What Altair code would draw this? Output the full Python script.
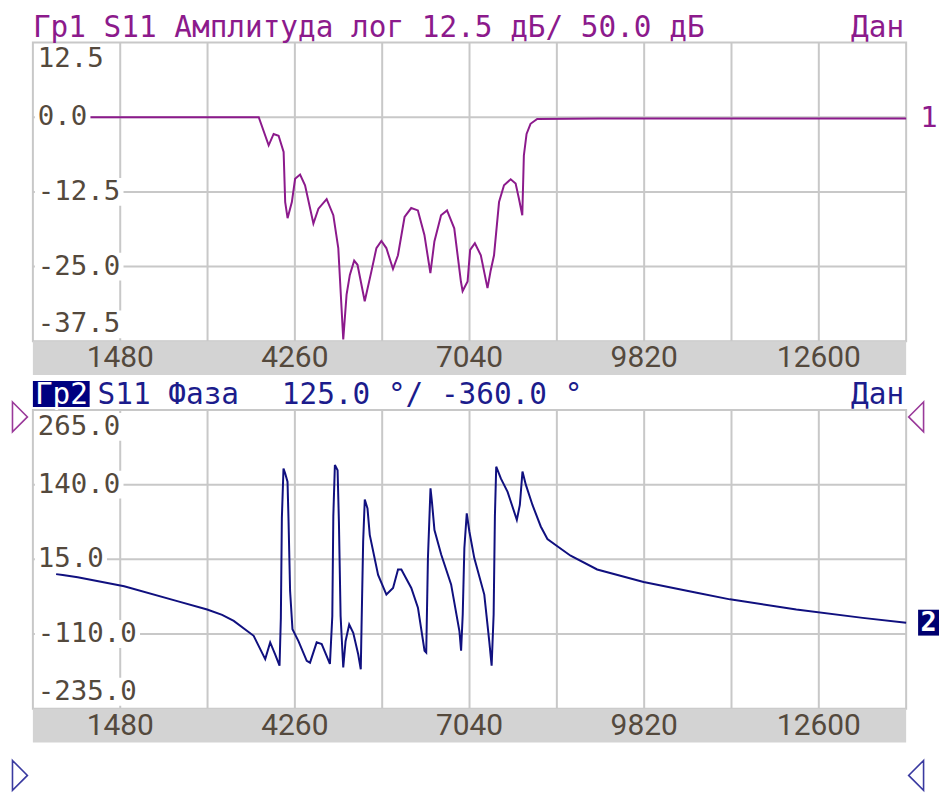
import altair as alt
import pandas as pd

# ---------------- data ----------------
x_domain = [90, 13990]
x_grid = [1480, 2870, 4260, 5650, 7040, 8430, 9820, 11210, 12600]
x_labels = [1480, 4260, 7040, 9820, 12600]

mag_freq = [460, 3685, 3843, 3922, 4001, 4081, 4106, 4144, 4212, 4264,
            4343, 4422, 4555, 4635, 4766, 4872, 4951, 4977, 5030, 5083,
            5135, 5204, 5257, 5372, 5478, 5558, 5637, 5716, 5822, 5901,
            6006, 6112, 6218, 6322, 6417, 6481, 6587, 6682, 6797, 6903,
            6930, 7009, 7050, 7125, 7220, 7326, 7378, 7430, 7510, 7589,
            7695, 7774, 7826, 7880, 7905, 7948, 8011, 8117, 9120, 13990]
mag_db = [0, 0, -4.7, -2.8, -3.1, -5.8, -14.2, -16.9, -14.2, -10.3,
          -9.6, -11.4, -17.8, -15.3, -13.7, -16.4, -21.9, -26.9, -37.2, -29.7,
          -26.4, -24.0, -24.7, -30.8, -25.8, -21.9, -20.7, -21.9, -25.4, -23.1,
          -16.7, -15.2, -15.6, -19.7, -26.1, -20.8, -16.4, -15.6, -18.6, -27.5,
          -29.1, -27.5, -22.2, -21.1, -23.1, -28.6, -25.6, -23.1, -14.2, -11.4,
          -10.4, -11.1, -13.6, -16.4, -6.4, -2.8, -1.1, -0.3, -0.2, -0.2]
mag_domain = [-37.5, 12.5]
mag_ticks = [12.5, 0.0, -12.5, -25.0, -37.5]
mag_tick_text = ["12.5", "0.0", "-12.5", "-25.0", "-37.5"]

ph_freq = [460, 803, 1543, 2388, 2864, 3102, 3287, 3604, 3788, 3867,
           3946, 4016, 4037, 4053, 4079, 4105, 4143, 4159, 4184, 4222,
           4317, 4449, 4501, 4607, 4687, 4818, 4856, 4872, 4897, 4940,
           4961, 4988, 5030, 5067, 5125, 5189, 5268, 5309, 5321, 5347,
           5373, 5416, 5452, 5585, 5717, 5823, 5902, 5955, 6113, 6219,
           6324, 6351, 6378, 6419, 6441, 6482, 6589, 6747, 6879, 6906,
           6932, 6958, 6996, 7037, 7116, 7275, 7354, 7392, 7424, 7444,
           7465, 7540, 7646, 7793, 7841, 7883, 7936, 8042, 8174, 8280,
           8438, 8649, 9072, 9811, 10657, 11185, 12242, 13298, 13990]
ph_deg = [-9.5, -15, -30, -55, -69, -78, -88, -113, -152, -124,
          -144, -163, -83, 84, 167, 159, 145, 81, -38, -102,
          -122, -155, -158, -124, -127, -160, -80, 87, 173, 164,
          78, -80, -166, -122, -94, -108, -144, -169, -99, 45,
          115, 100, 56, -11, -44, -33, -2, -2, -33, -66,
          -138, -141, 17, 134, 112, 64, 23, -27, -105, -138,
          -77, 34, 92, 62, 17, -44, -122, -163, -77, 87,
          170, 150, 128, 81, 106, 162, 140, 106, 70, 49,
          37, 21, -2, -23, -41, -52, -69, -83, -91]
ph_domain = [-235, 265]
ph_ticks = [265, 140, 15, -110, -235]
ph_tick_text = ["265.0", "140.0", "15.0", "-110.0", "-235.0"]

title1 = "Гр1 S11 Амплитуда лог 12.5 дБ/ 50.0 дБ"
title2_tag = "Гр2"
title2_a = "S11 Фаза"
title2_b = "125.0 °/ -360.0 °"
status = "Дан"

# ---------------- style ----------------
W, H = 877, 300
LEFT_EXT, RIGHT_EXT = -22, 910
MONO = "DejaVu Sans Mono"
SANS = "Roboto"
GRID = "#c8c8c8"
BAND = "#d3d3d3"
LABEL = "#54493d"
PURPLE = "#8c1a8c"
NAVY_TXT = "#1c1c8c"
NAVY_LINE = "#10107f"
NAVY_BOX = "#000080"
TRI_P = "#9a3a9a"
TRI_B = "#3a3aa0"
RIGHT_TRI = "M-0.5,-1L0.5,0L-0.5,1Z"
LEFT_TRI = "M0.5,-1L-0.5,0L0.5,1Z"

one = pd.DataFrame({"a": [0]})


def xs():
    return alt.X("f:Q", scale=alt.Scale(domain=x_domain, nice=False, zero=False), axis=None)


def ys(domain):
    return alt.Y("v:Q", scale=alt.Scale(domain=domain, nice=False, zero=False), axis=None)


def panel(freq, vals, domain, ticks, tick_text, color, top_bound):
    layers = []
    layers.append(alt.Chart(pd.DataFrame({"f": x_grid})).mark_rule(color=GRID, strokeWidth=2)
                  .encode(x=xs(), y=alt.value(0), y2=alt.value(H)))
    layers.append(alt.Chart(pd.DataFrame({"v": ticks[1:-1]})).mark_rule(color=GRID, strokeWidth=2)
                  .encode(y=ys(domain), x=alt.value(0), x2=alt.value(W)))
    layers.append(alt.Chart(pd.DataFrame({"f": freq, "v": vals})).mark_line(color=color, strokeWidth=2)
                  .encode(x=xs(), y=ys(domain)))
    n = len(ticks)
    for i, (v, t) in enumerate(zip(ticks, tick_text)):
        shift = 17 if i == 0 else (-17 if i == n - 1 else 0)
        d = pd.DataFrame({"v": [v], "t": [t]})
        layers.append(alt.Chart(d).mark_rect(color="white", yOffset=shift - 14, y2Offset=shift + 14)
                      .encode(y=ys(domain), y2=alt.Y2("v:Q"), x=alt.value(2),
                              x2=alt.value(5 + len(t) * 16.6 + 3)))
        layers.append(alt.Chart(d).mark_text(align="left", baseline="middle", dy=shift, font=MONO,
                                             fontSize=27.5, color=LABEL)
                      .encode(y=ys(domain), x=alt.value(5), text="t:N"))
    # gray axis band
    layers.append(alt.Chart(one).mark_rect(color=BAND)
                  .encode(x=alt.value(0), x2=alt.value(W), y=alt.value(H), y2=alt.value(H + 34)))
    layers.append(alt.Chart(pd.DataFrame({"f": x_labels, "t": [str(v) for v in x_labels]}))
                  .mark_text(font=SANS, fontSize=30, color=LABEL, baseline="middle")
                  .encode(x=xs(), y=alt.value(H + 17), text="t:N"))
    # invisible helper fixing the panel's extent
    layers.append(alt.Chart(one).mark_rule(strokeOpacity=0, strokeWidth=0.01, color="white")
                  .encode(x=alt.value(LEFT_EXT), x2=alt.value(RIGHT_EXT), y=alt.value(top_bound)))
    return layers


# panel 1
p1 = panel(mag_freq, mag_db, mag_domain, mag_ticks, mag_tick_text, PURPLE, -32)
p1.append(alt.Chart(one).mark_text(align="left", baseline="alphabetic", font=MONO, fontSize=29.5, color=PURPLE)
          .encode(x=alt.value(0), y=alt.value(-6), text=alt.value(title1)))
p1.append(alt.Chart(one).mark_text(align="right", baseline="alphabetic", font=MONO, fontSize=29.5, color=PURPLE)
          .encode(x=alt.value(875), y=alt.value(-6), text=alt.value(status)))
p1.append(alt.Chart(pd.DataFrame({"v": [mag_db[-1]]})).mark_text(baseline="middle", font=MONO, fontSize=29, color=PURPLE)
          .encode(x=alt.value(900), y=ys(mag_domain), text=alt.value("1")))
chart1 = alt.layer(*p1).properties(width=W, height=H)

# panel 2
p2 = panel(ph_freq, ph_deg, ph_domain, ph_ticks, ph_tick_text, NAVY_LINE, -33)
p2.append(alt.Chart(one).mark_rect(color=NAVY_BOX)
          .encode(x=alt.value(0), x2=alt.value(57), y=alt.value(-29), y2=alt.value(-3)))
p2.append(alt.Chart(one).mark_text(align="left", baseline="alphabetic", font=MONO, fontSize=29.5, color="white")
          .encode(x=alt.value(2), y=alt.value(-6), text=alt.value(title2_tag)))
p2.append(alt.Chart(one).mark_text(align="left", baseline="alphabetic", font=MONO, fontSize=29.5, color=NAVY_TXT)
          .encode(x=alt.value(65), y=alt.value(-6), text=alt.value(title2_a)))
p2.append(alt.Chart(one).mark_text(align="left", baseline="alphabetic", font=MONO, fontSize=29.5, color=NAVY_TXT)
          .encode(x=alt.value(250), y=alt.value(-6), text=alt.value(title2_b)))
p2.append(alt.Chart(one).mark_text(align="right", baseline="alphabetic", font=MONO, fontSize=29.5, color=NAVY_TXT)
          .encode(x=alt.value(875), y=alt.value(-6), text=alt.value(status)))
end2 = pd.DataFrame({"v": [ph_deg[-1]]})
p2.append(alt.Chart(end2).mark_rect(color="#000070", yOffset=-13, y2Offset=13)
          .encode(x=alt.value(889), x2=alt.value(910), y=ys(ph_domain), y2=alt.Y2("v:Q")))
p2.append(alt.Chart(end2).mark_text(baseline="middle", font=MONO, fontSize=27, color="white", fontWeight="bold")
          .encode(x=alt.value(899.5), y=ys(ph_domain), text=alt.value("2")))
for xpos, ypos, shape, col in [(-13, 7, RIGHT_TRI, TRI_P), (887, 7, LEFT_TRI, TRI_P),
                               (-13, 367, RIGHT_TRI, TRI_B), (887, 367, LEFT_TRI, TRI_B)]:
    p2.append(alt.Chart(one).mark_point(shape=shape, size=900, filled=False, strokeWidth=1.6,
                                        color=col, opacity=1)
              .encode(x=alt.value(xpos), y=alt.value(ypos)))
chart2 = alt.layer(*p2).properties(width=W, height=H)

chart = alt.vconcat(chart1, chart2, spacing=0).configure(
    padding=0, background="white"
).configure_view(stroke=GRID, strokeWidth=2)

chart.save("out.html", embed_options={"renderer": "svg", "actions": False})
